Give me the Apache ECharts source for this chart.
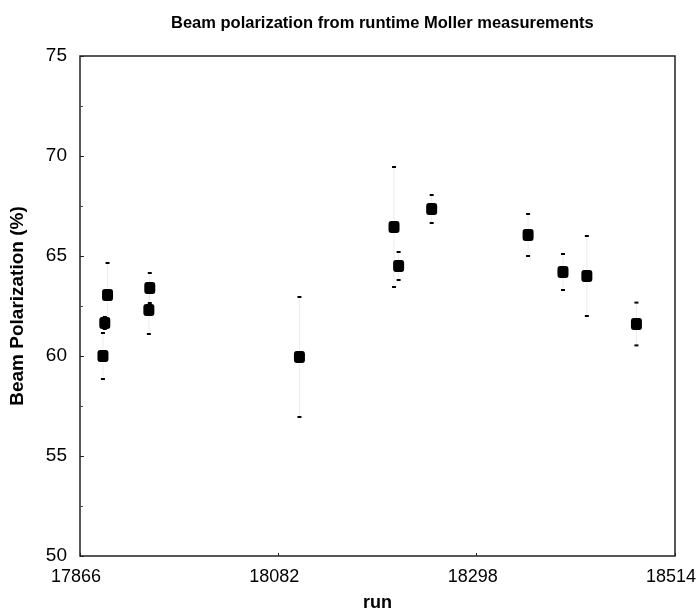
<!DOCTYPE html>
<html>
<head>
<meta charset="utf-8">
<script src="https://cdn.jsdelivr.net/npm/echarts@6/dist/echarts.min.js"></script>
<style>
	html, body { margin:0; padding:0; background:#fff; }
	#chart { width:697px; height:613px; }
</style>
</head>
<body>
<div id="chart"></div>
<script>
// run numbers, polarization (%) and its error
var runs = [17891, 17893, 17896, 17941, 17942, 18105, 18208, 18213, 18249, 18354, 18392, 18418, 18472];
var pol  = [60.0, 61.65, 63.05, 62.3, 63.4, 59.95, 66.45, 64.5, 67.35, 66.05, 64.2, 64.0, 61.6];
var err  = [1.15, 0.3, 1.6, 1.2, 0.75, 3.0, 3.0, 0.7, 0.7, 1.05, 0.9, 2.0, 1.07];
var xTicks = [17866, 18082, 18298, 18514];

var font = 'Liberation Sans';

var points = [];
var bars = [];
for( var i = 0; i < runs.length; i++ ){
	points.push( [runs[i], pol[i]] );
	bars.push( [runs[i], pol[i] - err[i], pol[i] + err[i]] );
}

var renderErr = function(params, api){
	var lo = api.coord( [api.value(0), api.value(1)] );
	var hi = api.coord( [api.value(0), api.value(2)] );
	return {
		type:'group',
		children:[
			{type:'line', shape:{x1:lo[0], y1:lo[1], x2:hi[0], y2:hi[1]}, style:{stroke:'#ececec', lineWidth:1}},
			{type:'rect', shape:{x:lo[0] - 2, y:lo[1] - 1, width:4, height:2}, style:{fill:'#000'}},
			{type:'rect', shape:{x:hi[0] - 2, y:hi[1] - 1, width:4, height:2}, style:{fill:'#000'}}
		]
	};
};

var chart = echarts.init( document.getElementById( 'chart' ) );
chart.setOption( {
	animation:false,
	title:{
		text:'Beam polarization from runtime Moller measurements',
		left:166,
		top:10,
		textStyle:{fontFamily:font, fontWeight:'bold', fontSize:16.5, color:'#000'}
	},
	grid:{
		left:80, right:22, top:56, bottom:57,
		outerBoundsMode:'none',
		containLabel:false,
		show:true, borderColor:'#222', borderWidth:1.5, backgroundColor:'#fff'
	},
	xAxis:{
		type:'value',
		min:17866, max:18514,
		name:'run',
		nameLocation:'middle',
		nameGap:38,
		nameTextStyle:{fontFamily:font, fontWeight:'bold', fontSize:18, color:'#000'},
		axisLine:{show:false},
		axisTick:{show:true, inside:true, length:3, customValues:xTicks, lineStyle:{color:'#222'}},
		axisLabel:{
			customValues:xTicks, fontFamily:font, fontSize:18, color:'#000', margin:12,
			padding:[0, 8, 0, 0],
			formatter:function(v){ return String( v ); }
		},
		splitLine:{show:false}
	},
	yAxis:{
		type:'value',
		min:50, max:75, interval:5,
		name:'Beam Polarization (%)',
		nameLocation:'middle',
		nameGap:53,
		nameTextStyle:{fontFamily:font, fontWeight:'bold', fontSize:19, color:'#000'},
		axisLine:{show:false},
		axisTick:{show:true, inside:true, length:4, lineStyle:{color:'#222'}},
		minorTick:{show:true, splitNumber:2, length:3, lineStyle:{color:'#444'}},
		axisLabel:{fontFamily:font, fontSize:19, color:'#000', margin:13},
		splitLine:{show:false}
	},
	series:[
		{
			type:'custom',
			renderItem:renderErr,
			data:bars,
			z:2
		},
		{
			type:'scatter',
			data:points,
			symbol:'roundRect',
			symbolSize:[11, 12],
			itemStyle:{color:'#000', opacity:1},
			z:3
		}
	]
} );
</script>
</body>
</html>
